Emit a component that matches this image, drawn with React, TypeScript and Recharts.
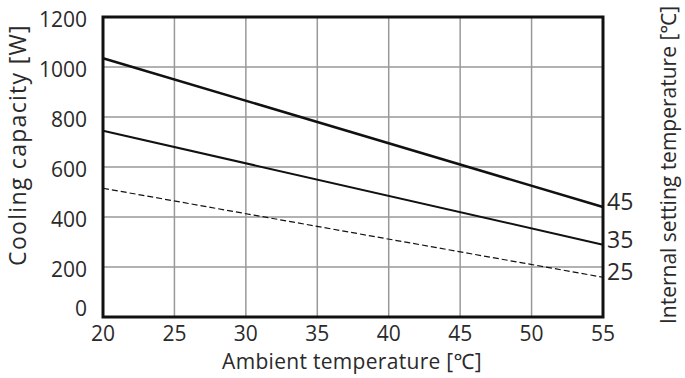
import React from 'react';
import { LineChart, Line, XAxis, YAxis, CartesianGrid, ReferenceArea } from 'recharts';

const ambient = [20, 55];
const set45 = [1035, 440];
const set35 = [745, 289];
const set25 = [515, 159];
const xTicks = [20, 25, 30, 35, 40, 45, 50, 55];
const yTicks = [0, 200, 400, 600, 800, 1000, 1200];
const seriesNames = ['45', '35', '25'];

const data = ambient.map((t, i) => ({ t, s45: set45[i], s35: set35[i], s25: set25[i] }));

const FONT = '"Open Sans", "Noto Sans", sans-serif';
const TXT = '#2a2a2a';

const endLabel = (name: string) => (props: any) => {
  const { x, y, index } = props;
  if (index !== data.length - 1) return null;
  return (
    <text x={x + 4} y={y} dy={3} fontSize={23} fontFamily={FONT} fill={TXT} textAnchor="start">
      {name}
    </text>
  );
};

const YTick = (props: any) => {
  const { x, y, payload } = props;
  const shift = payload.value === 0 ? -8 : 3;
  return (
    <text x={x} y={y + shift} dy="0.355em" textAnchor="end" fontSize={21} fontFamily={FONT} fill={TXT}>
      {payload.value}
    </text>
  );
};

const XTick = (props: any) => {
  const { x, y, payload } = props;
  return (
    <text x={x} y={y} dy="0.75em" textAnchor="middle" fontSize={21} fontFamily={FONT} fill={TXT}>
      {payload.value}
    </text>
  );
};

export default function App() {
  return (
    <div style={{ position: 'absolute', left: 0, top: 0 }}>
      <LineChart width={685} height={378} data={data} margin={{ top: 17, right: 82, bottom: 0, left: 0 }}>
        <CartesianGrid stroke="#999" strokeWidth={1.5} vertical horizontal />
        <XAxis
          dataKey="t"
          type="number"
          domain={[20, 55]}
          ticks={xTicks}
          interval={0}
          height={61}
          axisLine={false}
          tickLine={false}
          tick={<XTick />}
          tickMargin={2}
        />
        <YAxis
          type="number"
          domain={[0, 1200]}
          ticks={yTicks}
          interval={0}
          width={103}
          axisLine={false}
          tickLine={false}
          tick={<YTick />}
          tickMargin={10}
        />
        <ReferenceArea x1={20} x2={55} y1={0} y2={1200} fill="none" stroke="#111" strokeWidth={3} fillOpacity={0} ifOverflow="visible" />
        <Line dataKey="s45" name={seriesNames[0]} stroke="#111" strokeWidth={2.5} dot={false} isAnimationActive={false} label={endLabel(seriesNames[0])} />
        <Line dataKey="s35" name={seriesNames[1]} stroke="#111" strokeWidth={2} dot={false} isAnimationActive={false} label={endLabel(seriesNames[1])} />
        <Line dataKey="s25" name={seriesNames[2]} stroke="#111" strokeWidth={1.2} strokeDasharray="6 3" dot={false} isAnimationActive={false} label={endLabel(seriesNames[2])} />
        <text x={352} y={369} textAnchor="middle" fontSize={21} letterSpacing={0.3} fontFamily={FONT} fill={TXT}>
          Ambient temperature [℃]
        </text>
        <text
          x={26}
          y={145}
          transform="rotate(-90 26 145)"
          textAnchor="middle"
          fontSize={23}
          letterSpacing={1.3}
          fontFamily={FONT}
          fill={TXT}
        >
          Cooling capacity [W]
        </text>
        <text
          x={676}
          y={165}
          transform="rotate(-90 676 165)"
          textAnchor="middle"
          fontSize={21}
          fontFamily={FONT}
          fill={TXT}
        >
          Internal setting temperature [℃]
        </text>
      </LineChart>
    </div>
  );
}
